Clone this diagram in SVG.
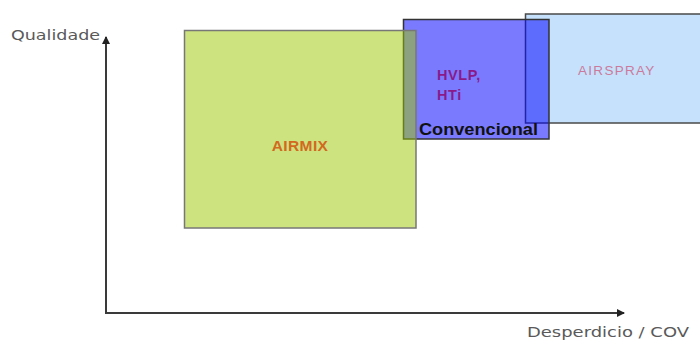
<svg xmlns="http://www.w3.org/2000/svg" width="700" height="342" viewBox="0 0 700 342">
<style>
.axis{stroke:#3a3a3a;stroke-width:2;fill:none}
.axlbl{font-family:"DejaVu Sans","Liberation Sans",sans-serif;font-size:14px;fill:#5a5a5a}
.lbl{font-family:"Liberation Sans",Arial,sans-serif}
</style>
<defs>
<marker id="ah" viewBox="0 0 8 8" refX="7" refY="4" markerWidth="4" markerHeight="4" orient="auto" markerUnits="strokeWidth">
<path d="M0,0 L8,4 L0,8 Z" fill="#222"/>
</marker>
</defs>
<rect width="700" height="342" fill="#fff"/>
<g id="connectors">
<path class="axis" d="M106,313 L106,37" marker-end="url(#ah)"/>
<path class="axis" d="M105,313 L624,313" marker-end="url(#ah)"/>
</g>
<g id="airspray">
<rect x="525.5" y="14" width="180" height="109" fill="#c5e1fb" stroke="#4a4a4a" stroke-width="1.5"/>
<text class="lbl" x="578" y="75" font-size="13.5" letter-spacing="1.3" fill="#cc7a9c">AIRSPRAY</text>
</g>
<g id="convencional">
<rect x="403.5" y="19.5" width="145.5" height="119.5" fill="#0000ff" fill-opacity="0.52" stroke="#333" stroke-width="1.5"/>
<text class="lbl" x="437" y="80" font-size="14.5" font-weight="bold" letter-spacing="0.6" fill="#8a1a8a">HVLP,</text>
<text class="lbl" x="437" y="100" font-size="14.5" font-weight="bold" letter-spacing="0.6" fill="#8a1a8a">HTi</text>
<text class="lbl" x="419" y="135" font-size="17" font-weight="bold" textLength="119" lengthAdjust="spacingAndGlyphs" fill="#111">Convencional</text>
</g>
<g id="airmix">
<rect x="184.5" y="30.5" width="231.5" height="197.5" fill="#9cc800" fill-opacity="0.5" stroke="#777" stroke-width="1.5"/>
<text class="lbl" x="300" y="151" font-size="15.5" font-weight="bold" text-anchor="middle" letter-spacing="0.4" fill="#d2691e">AIRMIX</text>
</g>
<g id="labels">
<text class="axlbl" x="11" y="40" textLength="89" lengthAdjust="spacingAndGlyphs">Qualidade</text>
<text class="axlbl" x="527" y="337" textLength="162" lengthAdjust="spacingAndGlyphs">Desperdicio / COV</text>
</g>
</svg>
